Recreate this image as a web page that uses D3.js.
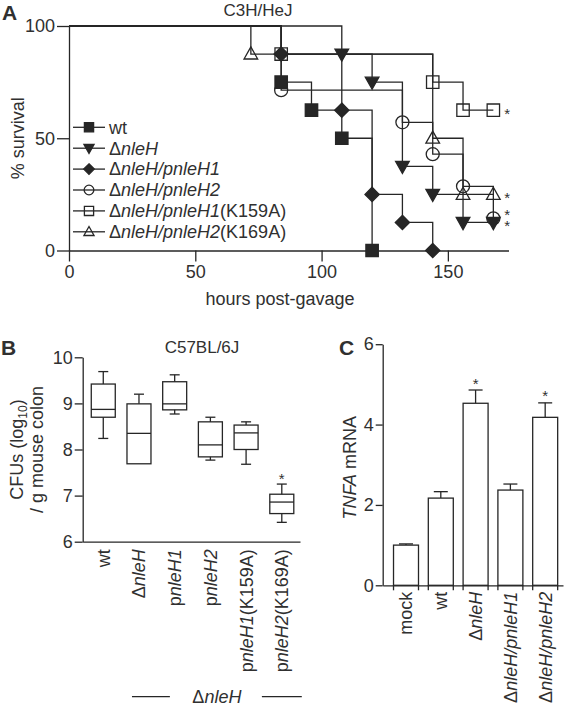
<!DOCTYPE html>
<html><head><meta charset="utf-8">
<script src="https://cdn.jsdelivr.net/npm/d3@7/dist/d3.min.js"></script>
<style>
body{margin:0;background:#fff;}
svg{display:block;font-family:"Liberation Sans",Arial,Helvetica,sans-serif;}
</style></head><body>
<svg id="c" width="566" height="708"></svg>
<script>
// ---------- Panel A: survival (C3H/HeJ) ----------
const survGroups = ["wt","ΔnleH","ΔnleH/pnleH1","ΔnleH/pnleH2","ΔnleH/pnleH1(K159A)","ΔnleH/pnleH2(K169A)"];
const survWtT   = [0,84,96,108,120];          const survWtS   = [100,75,62.5,50,0];
const survDelT  = [0,108,120,132,144,156,168]; const survDelS  = [100,87.5,75,37.5,25,12.5,12.5];
const survH1T   = [0,84,108,120,132,144];      const survH1S   = [100,87.5,62.5,25,12.5,0];
const survH2T   = [0,84,132,144,156,168];      const survH2S   = [100,71.4,57.1,42.9,28.6,14.3];
const survK159T = [0,84,144,156,168];          const survK159S = [100,87.5,75,62.5,62.5];
const survK169T = [0,72,144,156,168];          const survK169S = [100,87.5,50,25,25];
const survTimes = [survWtT,survDelT,survH1T,survH2T,survK159T,survK169T];
const survVals  = [survWtS,survDelS,survH1S,survH2S,survK159S,survK169S];
const survShapes = ["square","triDown","diamond","circle","square","triUp"];
const survFilled = [true,true,true,false,false,false];
const survStarGroups = [4,5,3,1];
const survXTicks = [0,50,100,150];
const survYTicks = [0,50,100];

// ---------- Panel B: CFUs box plot (C57BL/6J) ----------
const boxCats = ["wt","ΔnleH","pnleH1","pnleH2","pnleH1(K159A)","pnleH2(K169A)"];
const boxMin = [8.24,7.69,8.77,7.77,7.68,6.42];
const boxQ1  = [8.70,7.69,8.86,7.84,8.00,6.61];
const boxMed = [8.87,8.35,8.99,8.10,8.36,6.86];
const boxQ3  = [9.42,8.99,9.47,8.60,8.53,7.03];
const boxMax = [9.69,9.20,9.62,8.70,8.60,7.25];
const boxStars = ["pnleH2(K169A)"];
const boxYTicks = [6,7,8,9,10];
const boxBracketLabel = "ΔnleH";

// ---------- Panel C: TNFA mRNA bars ----------
const barCats = ["mock","wt","ΔnleH","ΔnleH/pnleH1","ΔnleH/pnleH2"];
const barMean = [1.00,2.17,4.53,2.37,4.18];
const barSem  = [0.03,0.16,0.33,0.15,0.36];
const barStars = ["ΔnleH","ΔnleH/pnleH2"];
const barYTicks = [0,2,4,6];

// ---------- helpers ----------
const svg = d3.select("#c");
const ink = "#262626", txt = "#303030", lw = 1.3;
const intFmt = d3.format("d");

function rich(sel, label, italicP){
  const re = italicP ? /(nleH\/pnleH[12]|nleH[12]?)/ : /(nleH[12]?)/;
  label.split(re).filter(s => s.length).forEach(s => {
    const m = s.match(re);
    sel.append("tspan").attr("font-style", (m && m[0] === s) ? "italic" : "normal").text(s);
  });
}
function markerPath(shape, r){
  switch(shape){
    case "square":  return `M${-r},${-r}H${r}V${r}H${-r}Z`;
    case "diamond": { const d=r*1.15; return `M0,${-d}L${d},0L0,${d}L${-d},0Z`; }
    case "triUp":   return `M0,${-r*1.15}L${r*1.1},${r*0.8}L${-r*1.1},${r*0.8}Z`;
    case "triDown": return `M0,${r*1.15}L${r*1.1},${-r*0.8}L${-r*1.1},${-r*0.8}Z`;
    default:        return `M${r},0A${r},${r},0,1,1,${-r},0A${r},${r},0,1,1,${r},0Z`;
  }
}
function drawMarker(g, shape, filled, x, y, r){
  const d = shape === "circle" ? markerPath("circle", r*1.05) : markerPath(shape, r);
  g.append("path").attr("d", d).attr("transform", `translate(${x},${y})`)
    .attr("fill", filled ? ink : "none").attr("stroke", ink).attr("stroke-width", lw);
}
function styleAxis(g, fs){
  g.attr("font-family", null).attr("font-size", fs);
  g.selectAll("path.domain").attr("stroke", ink).attr("stroke-width", lw);
  g.selectAll(".tick line").attr("stroke", ink).attr("stroke-width", lw);
  g.selectAll(".tick text").attr("fill", txt);
}

// ================= Panel A =================
const xA = d3.scaleLinear().domain([0,174]).range([69,508.5]);
const yA = d3.scaleLinear().domain([0,100]).range([250.5,26]);
const gA = svg.append("g");

gA.append("g").attr("transform", `translate(${xA(0)},0)`)
  .call(d3.axisLeft(yA).tickValues(survYTicks).tickFormat(intFmt).tickSize(12).tickSizeOuter(0).tickPadding(2))
  .call(g => styleAxis(g, 18));
gA.append("g").attr("transform", `translate(0,${yA(0)})`)
  .call(d3.axisBottom(xA).tickValues(survXTicks).tickFormat(intFmt).tickSize(11).tickSizeOuter(0).tickPadding(4))
  .call(g => styleAxis(g, 18));

const stepLine = d3.line().x(d => xA(d[0])).y(d => yA(d[1])).curve(d3.curveStepAfter);
survTimes.forEach((ts, i) => {
  gA.append("path").attr("d", stepLine(ts.map((t,j) => [t, survVals[i][j]])))
    .attr("fill","none").attr("stroke", ink).attr("stroke-width", lw);
});
[3,4,5,0,1,2].forEach(i => {
  survTimes[i].forEach((t,j) => {
    if (t === 0) return;
    drawMarker(gA, survShapes[i], survFilled[i], xA(t), yA(survVals[i][j]), 6.2);
  });
});
// significance stars, nudged apart when they collide
const starPos = survStarGroups.map(i => ({i, y: yA(survVals[i][survVals[i].length-1]), t: survTimes[i][survTimes[i].length-1]}))
  .sort((a,b) => a.y - b.y);
for (let k = starPos.length-2; k >= 0; k--) {
  if (starPos[k+1].y - starPos[k].y < 11) starPos[k].y = starPos[k+1].y - 11;
}
starPos.forEach(s => {
  gA.append("text").attr("x", xA(s.t) + 11).attr("y", s.y + 9).attr("font-size", 15).attr("fill", txt).text("*");
});
// legend
survGroups.forEach((name, i) => {
  const cy = 127.3 + i*20.9;
  gA.append("line").attr("x1", 73).attr("x2", 105).attr("y1", cy).attr("y2", cy).attr("stroke", ink).attr("stroke-width", lw);
  drawMarker(gA, survShapes[i], survFilled[i], 89, cy, 4.6);
  const t = gA.append("text").attr("x", 109).attr("y", cy + 6.3).attr("font-size", 18).attr("fill", txt);
  rich(t, name, true);
});
gA.append("text").attr("x", 2).attr("y", 20).attr("font-size", 21).attr("font-weight", "bold").attr("fill", txt).text("A");
gA.append("text").attr("x", 258).attr("y", 16).attr("text-anchor", "middle").attr("font-size", 17).attr("fill", txt).text("C3H/HeJ");
gA.append("text").attr("transform", `translate(24,${(yA(0)+yA(100))/2}) rotate(-90)`).attr("text-anchor","middle")
  .attr("font-size", 18).attr("fill", txt).text("% survival");
gA.append("text").attr("x", 280).attr("y", 305).attr("text-anchor","middle").attr("font-size", 18).attr("fill", txt).text("hours post-gavage");

// ================= Panel B =================
const xB = d3.scaleBand().domain(boxCats).range([82.7,300]).paddingInner(0.328).paddingOuter(0.207).align(0.58);
const yB = d3.scaleLinear().domain([6,10]).range([541.7,357.3]);
const gB = svg.append("g");
gB.append("g").attr("transform", `translate(${xB.range()[0]},0)`)
  .call(d3.axisLeft(yB).tickValues(boxYTicks).tickFormat(intFmt).tickSize(8).tickSizeOuter(0).tickPadding(2))
  .call(g => styleAxis(g, 18));
gB.append("g").attr("transform", `translate(0,${yB(6)})`)
  .call(d3.axisBottom(xB).tickSize(0).tickFormat(""))
  .call(g => styleAxis(g, 18));
const bw = xB.bandwidth();
boxCats.forEach((c, i) => {
  const x0 = xB(c), cx = x0 + bw/2, cap = 5;
  const st = s => s.attr("stroke", ink).attr("stroke-width", lw).attr("fill","none");
  gB.append("rect").attr("x", x0).attr("width", bw).attr("y", yB(boxQ3[i])).attr("height", yB(boxQ1[i]) - yB(boxQ3[i])).call(st);
  gB.append("line").attr("x1", x0).attr("x2", x0+bw).attr("y1", yB(boxMed[i])).attr("y2", yB(boxMed[i])).call(st);
  if (boxMax[i] > boxQ3[i]) {
    gB.append("line").attr("x1", cx).attr("x2", cx).attr("y1", yB(boxQ3[i])).attr("y2", yB(boxMax[i])).call(st);
    gB.append("line").attr("x1", cx-cap).attr("x2", cx+cap).attr("y1", yB(boxMax[i])).attr("y2", yB(boxMax[i])).call(st);
  }
  if (boxMin[i] < boxQ1[i]) {
    gB.append("line").attr("x1", cx).attr("x2", cx).attr("y1", yB(boxQ1[i])).attr("y2", yB(boxMin[i])).call(st);
    gB.append("line").attr("x1", cx-cap).attr("x2", cx+cap).attr("y1", yB(boxMin[i])).attr("y2", yB(boxMin[i])).call(st);
  }
  if (boxStars.includes(c)) {
    gB.append("text").attr("x", cx).attr("y", yB(boxMax[i]) - 9 + 9).attr("text-anchor","middle").attr("font-size",15).attr("fill",txt).text("*");
  }
  const t = gB.append("text").attr("transform", `translate(${cx},${yB(6)+7.5}) rotate(-90)`)
    .attr("text-anchor","end").attr("dy","0.36em").attr("font-size",18).attr("fill",txt);
  rich(t, c, false);
});
// bracket under the ΔnleH-derived strains
{
  const left = xB(boxCats[1]) + bw/2 - 7, right = xB(boxCats[boxCats.length-1]) + bw/2 + 20, mid = (left+right)/2, by = 696.7;
  gB.append("line").attr("x1", left).attr("x2", mid-47).attr("y1", by).attr("y2", by).attr("stroke", ink).attr("stroke-width", lw);
  gB.append("line").attr("x1", mid+45).attr("x2", right).attr("y1", by).attr("y2", by).attr("stroke", ink).attr("stroke-width", lw);
  const t = gB.append("text").attr("x", mid).attr("y", by + 6).attr("text-anchor","middle").attr("font-size",18).attr("fill",txt);
  rich(t, boxBracketLabel, false);
}
gB.append("text").attr("x", 1).attr("y", 355).attr("font-size", 21).attr("font-weight","bold").attr("fill",txt).text("B");
gB.append("text").attr("x", 202).attr("y", 353).attr("text-anchor","middle").attr("font-size",17).attr("fill",txt).text("C57BL/6J");
{
  const cy = (yB(6)+yB(10))/2;
  const t1 = gB.append("text").attr("transform", `translate(23,${cy}) rotate(-90)`).attr("text-anchor","middle").attr("font-size",18).attr("fill",txt);
  t1.append("tspan").text("CFUs (log");
  t1.append("tspan").attr("font-size", 12).attr("dy", 4).text("10");
  t1.append("tspan").attr("dy", -4).text(")");
  gB.append("text").attr("transform", `translate(43,${cy}) rotate(-90)`).attr("text-anchor","middle").attr("font-size",18).attr("fill",txt).text("/ g mouse colon");
}

// ================= Panel C =================
const xC = d3.scaleBand().domain(barCats).range([382.7,563]).paddingInner(0.282).paddingOuter(0.232).align(0.67);
const yC = d3.scaleLinear().domain([0,6]).range([585.3,344.2]);
const gC = svg.append("g");
gC.append("g").attr("transform", `translate(${xC.range()[0]},0)`)
  .call(d3.axisLeft(yC).tickValues(barYTicks).tickFormat(intFmt).tickSize(7).tickSizeOuter(0).tickPadding(2))
  .call(g => styleAxis(g, 18));
gC.append("g").attr("transform", `translate(0,${yC(0)})`)
  .call(d3.axisBottom(xC).tickSize(0).tickFormat(""))
  .call(g => styleAxis(g, 18));
const cbw = xC.bandwidth();
barCats.forEach((c, i) => {
  const x0 = xC(c), cx = x0 + cbw/2, cap = 7;
  const st = s => s.attr("stroke", ink).attr("stroke-width", lw);
  const top = barMean[i] + barSem[i];
  gC.append("line").attr("x1", cx).attr("x2", cx).attr("y1", yC(barMean[i])).attr("y2", yC(top)).call(st);
  gC.append("line").attr("x1", cx-cap).attr("x2", cx+cap).attr("y1", yC(top)).attr("y2", yC(top)).call(st);
  gC.append("rect").attr("x", x0).attr("width", cbw).attr("y", yC(barMean[i])).attr("height", yC(0)-yC(barMean[i]))
    .attr("fill","#fff").call(st);
  [x0, x0+cbw].forEach(xe => gC.append("line").attr("x1", xe).attr("x2", xe).attr("y1", yC(0)).attr("y2", yC(0)+5).call(st));
  if (barStars.includes(c)) {
    gC.append("text").attr("x", cx).attr("y", yC(top) - 10.5 + 9).attr("text-anchor","middle").attr("font-size",15).attr("fill",txt).text("*");
  }
  const t = gC.append("text").attr("transform", `translate(${cx},${yC(0)+6.5}) rotate(-90)`)
    .attr("text-anchor","end").attr("dy","0.36em").attr("font-size",18).attr("fill",txt);
  rich(t, c, true);
});
gC.append("text").attr("x", 339).attr("y", 355).attr("font-size", 21).attr("font-weight","bold").attr("fill",txt).text("C");
{
  const t = gC.append("text").attr("transform", `translate(356,${(yC(0)+yC(6))/2 + 3}) rotate(-90)`).attr("text-anchor","middle").attr("font-size",18).attr("fill",txt);
  t.append("tspan").attr("font-style","italic").text("TNFA");
  t.append("tspan").text(" mRNA");
}
</script>
</body></html>
